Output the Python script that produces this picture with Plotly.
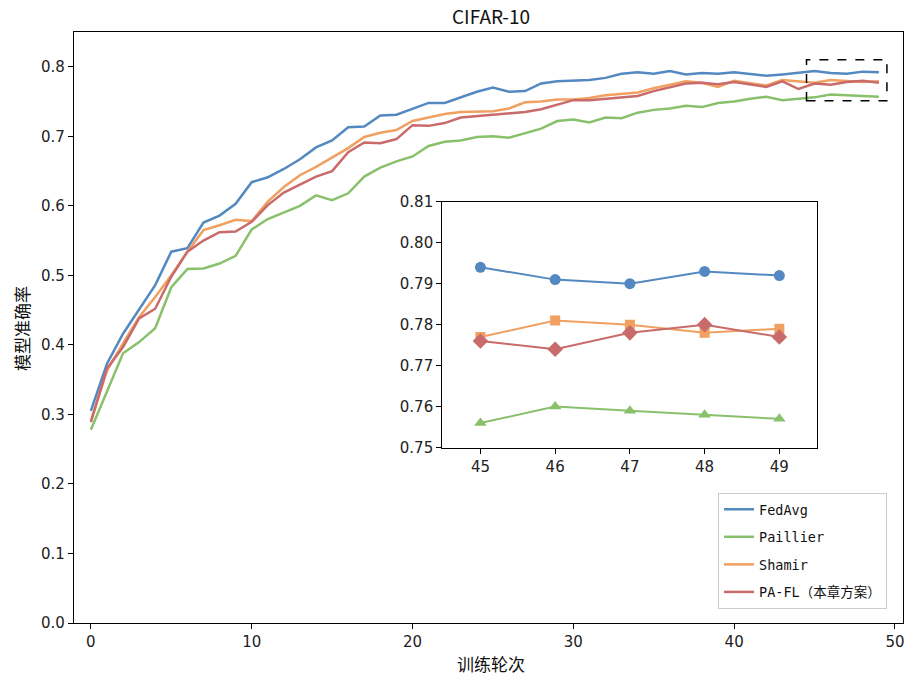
import plotly.graph_objects as go

epochs = list(range(50))
fedavg = [0.305, 0.373, 0.416, 0.451, 0.486, 0.534, 0.539, 0.576, 0.586, 0.603,
          0.634, 0.641, 0.653, 0.667, 0.684, 0.694, 0.713, 0.714, 0.730, 0.731,
          0.740, 0.748, 0.748, 0.756, 0.764, 0.770, 0.764, 0.765, 0.776, 0.779,
          0.780, 0.781, 0.784, 0.790, 0.792, 0.790, 0.794, 0.789, 0.791, 0.790,
          0.792, 0.790, 0.787, 0.789, 0.791, 0.794, 0.791, 0.790, 0.793, 0.792]
paillier = [0.278, 0.334, 0.388, 0.404, 0.424, 0.483, 0.509, 0.510, 0.517, 0.528,
            0.566, 0.581, 0.590, 0.600, 0.615, 0.608, 0.618, 0.642, 0.655, 0.664,
            0.671, 0.686, 0.692, 0.694, 0.699, 0.700, 0.698, 0.705, 0.711, 0.722,
            0.724, 0.720, 0.727, 0.726, 0.734, 0.738, 0.740, 0.744, 0.742, 0.748,
            0.750, 0.754, 0.757, 0.752, 0.754, 0.756, 0.760, 0.759, 0.758, 0.757]
shamir = [0.291, 0.363, 0.402, 0.440, 0.469, 0.500, 0.534, 0.565, 0.572, 0.580,
          0.578, 0.606, 0.627, 0.644, 0.656, 0.670, 0.683, 0.699, 0.705, 0.709,
          0.722, 0.727, 0.732, 0.735, 0.736, 0.736, 0.740, 0.749, 0.750, 0.753,
          0.753, 0.755, 0.759, 0.761, 0.763, 0.769, 0.774, 0.779, 0.777, 0.771,
          0.780, 0.776, 0.773, 0.781, 0.779, 0.777, 0.781, 0.780, 0.778, 0.779]
pafl = [0.289, 0.366, 0.397, 0.438, 0.452, 0.498, 0.534, 0.550, 0.562, 0.563,
        0.577, 0.601, 0.619, 0.631, 0.642, 0.650, 0.677, 0.691, 0.690, 0.696,
        0.716, 0.715, 0.719, 0.727, 0.729, 0.731, 0.733, 0.735, 0.739, 0.746,
        0.752, 0.752, 0.754, 0.755, 0.758, 0.765, 0.770, 0.776, 0.777, 0.775,
        0.778, 0.775, 0.771, 0.779, 0.768, 0.776, 0.774, 0.778, 0.780, 0.777]

names = ["FedAvg", "Paillier", "Shamir", "PA-FL（本章方案）"]
series = [fedavg, paillier, shamir, pafl]
colors = ["#5389c0", "#89c06c", "#f0a060", "#c86b6a"]
symbols = ["circle", "triangle-up", "square", "diamond"]
msizes = [11, 11, 10, 12]

zoom_start = 45
main_xticks = [0, 10, 20, 30, 40, 50]
main_yticks = [0.0, 0.1, 0.2, 0.3, 0.4, 0.5, 0.6, 0.7, 0.8]
inset_xticks = [45, 46, 47, 48, 49]
inset_yticks = [0.75, 0.76, 0.77, 0.78, 0.79, 0.80, 0.81]

fig = go.Figure()
for i, (n, s) in enumerate(zip(names, series)):
    fig.add_trace(go.Scatter(x=epochs, y=s, name=n, mode="lines",
                             line=dict(color=colors[i], width=2.5),
                             legendgroup=str(i), xaxis="x", yaxis="y"))
for i, (n, s) in enumerate(zip(names, series)):
    fig.add_trace(go.Scatter(x=epochs[zoom_start:], y=s[zoom_start:], name=n,
                             mode="lines+markers", showlegend=False,
                             line=dict(color=colors[i], width=2),
                             marker=dict(symbol=symbols[i], size=msizes[i], color=colors[i]),
                             xaxis="x2", yaxis="y2"))

tickfont = dict(family="DejaVu Sans", size=15, color="#222")
axcommon = dict(showgrid=False, zeroline=False, showline=True, linecolor="black",
                linewidth=1.2, mirror=True, ticks="outside", ticklen=5,
                tickcolor="black", tickfont=tickfont, automargin=False,
                ticklabeloverflow="allow")

L, R, T, B = 74, 1, 32, 56
W, H = 904, 679
pw, ph = W - L - R, H - T - B


def px_x(p):
    return (p - L) / pw


def px_y(p):
    return (H - B - p) / ph


cjk = "Noto Sans CJK SC"
fig.update_layout(
    width=W, height=H,
    margin=dict(l=L, r=R, t=T, b=B, pad=0, autoexpand=False),
    paper_bgcolor="white", plot_bgcolor="white",
    xaxis=dict(range=[-1.05, 50.5], tickvals=main_xticks, domain=[0, 1], **axcommon),
    yaxis=dict(range=[0, 0.85], tickvals=main_yticks, tickformat=".1f", domain=[0, 1], **axcommon),
    xaxis2=dict(range=[44.49, 49.5], tickvals=inset_xticks, domain=[0.4443, 0.8959],
                anchor="y2", **axcommon),
    yaxis2=dict(range=[0.75, 0.81], tickvals=inset_yticks, tickformat=".2f",
                domain=[0.2969, 0.7127], anchor="x2", **axcommon),
    legend=dict(x=px_x(718), y=px_y(493), xanchor="left", yanchor="top",
                bgcolor="white", bordercolor="#cccccc", borderwidth=1,
                font=dict(family="DejaVu Sans Mono, Noto Sans CJK SC", size=13.5, color="#111"),
                tracegroupgap=7, traceorder="grouped", itemwidth=30),
    shapes=[dict(type="rect", xref="x", yref="y", x0=44.5, x1=49.5, y0=0.751, y1=0.81,
                 line=dict(color="black", width=1.5, dash="dash"))],
    annotations=[
        dict(text="CIFAR-10", xref="paper", yref="paper", x=px_x(491), y=px_y(15),
             xanchor="center", yanchor="middle", showarrow=False,
             font=dict(family=cjk, size=19, color="#111")),
        dict(text="训练轮次", xref="paper", yref="paper", x=px_x(491), y=px_y(663),
             xanchor="center", yanchor="middle", showarrow=False,
             font=dict(family=cjk, size=17, color="#111")),
        dict(text="模型准确率", xref="paper", yref="paper", x=px_x(21), y=px_y(329),
             xanchor="center", yanchor="middle", showarrow=False, textangle=-90,
             font=dict(family=cjk, size=17, color="#111")),
    ],
    showlegend=True,
)

fig.write_html("out.html", config={"displayModeBar": False},
               post_script="document.body.style.margin='0';document.body.style.overflow='hidden';")
